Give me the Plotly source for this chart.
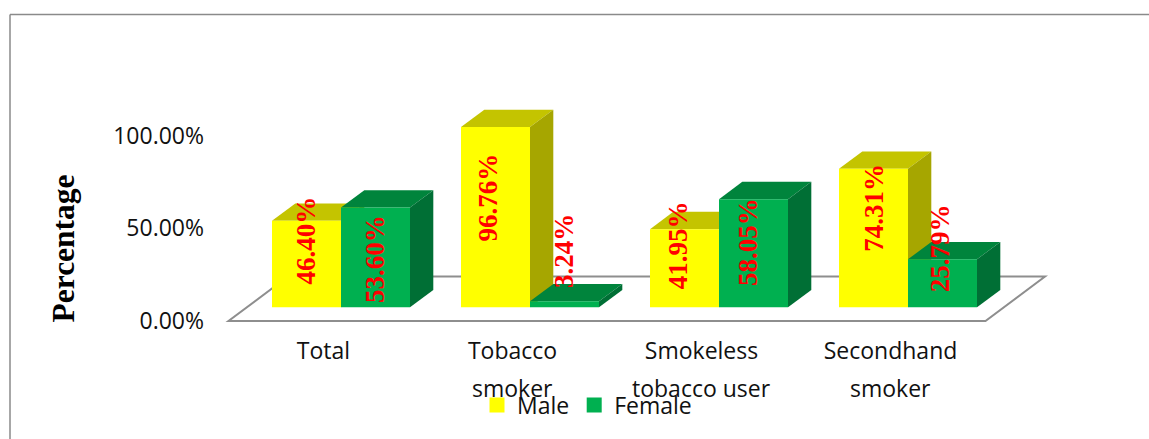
import plotly.graph_objects as go

first_lines = ["Total", "Tobacco", "Smokeless", "Secondhand"]
second_lines = ["", "smoker", "tobacco user", "smoker"]
male = [46.40, 96.76, 41.95, 74.31]
female = [53.60, 3.24, 58.05, 25.79]
tick_vals = [0, 50, 100]
tick_text = ["0.00%", "50.00%", "100.00%"]

# layout (page pixels)
W, H = 1149, 439
L, B = 205, 335
PX_X = 189.0      # px per category
X0 = 341.0        # px of first category centre
PX_Y = 1.863      # px per percent
Y0 = 307.3        # px of value 0
BAR = 69 / PX_X
DX = 23.3 / PX_X
DY = 17.3 / PX_Y
FONT = "Open Sans"
SERIF = "Liberation Serif"
TEXT_SIZE = 23
xr = [(L - X0) / PX_X, (W - X0) / PX_X]
yr = [(Y0 - B) / PX_Y, Y0 / PX_Y]
TICK_SHIFT = -17.5 / PX_X

# label placement (height along the bar, sideways shift in px)
male_label_h = [35.6, 59.0, 33.0, 53.5]
female_label_h = [25.9, 30.2, 35.0, 31.7]
male_label_dx = [-1, -7.5, -7, 0.5]
female_label_dx = [-0.5, -0.5, -5.5, -2.5]


def px(x):
    return (x - L) / (W - L)


def py(y):
    return (B - y) / B


def dark(kind, series):
    return {("top", "m"): "#C4C400", ("side", "m"): "#A6A600",
            ("top", "f"): "#00843C", ("side", "f"): "#006F35"}[(kind, series)]


fig = go.Figure()


def faces(values, left_offset, series):
    for i, v in enumerate(values):
        x1 = i + left_offset
        x2 = x1 + BAR
        fig.add_trace(go.Scatter(
            x=[x1, x1 + DX, x2 + DX, x2, x1], y=[v, v + DY, v + DY, v, v],
            mode="lines", fill="toself", fillcolor=dark("top", series),
            line=dict(width=0), showlegend=False, hoverinfo="skip", zorder=0))
        fig.add_trace(go.Scatter(
            x=[x2, x2 + DX, x2 + DX, x2, x2], y=[0, DY, v + DY, v, 0],
            mode="lines", fill="toself", fillcolor=dark("side", series),
            line=dict(width=0), showlegend=False, hoverinfo="skip", zorder=0))


faces(male, -BAR, "m")
faces(female, 0, "f")

cats = list(range(len(male)))
fig.add_trace(go.Bar(x=cats, y=male, name="Male", marker_color="#FFFF00",
                     marker_line_width=0, zorder=1, showlegend=False))
fig.add_trace(go.Bar(x=cats, y=female, name="Female", marker_color="#00B050",
                     marker_line_width=0, zorder=1, showlegend=False))
# legend keys
for name, color in (("Male", "#FFFF00"), ("Female", "#00B050")):
    fig.add_trace(go.Scatter(x=[None], y=[None], name=name, mode="markers",
                             marker=dict(symbol="square", size=15, color=color)))
# carries the shifted percentage axis
fig.add_trace(go.Scatter(x=cats[:3], y=tick_vals, yaxis="y2", mode="markers",
                         marker=dict(opacity=0), showlegend=False, hoverinfo="skip"))

ann = []
for i in cats:
    for vals, hs, dxs, off in ((male, male_label_h, male_label_dx, -BAR / 2),
                               (female, female_label_h, female_label_dx, BAR / 2)):
        ann.append(dict(x=i + off + dxs[i] / PX_X, y=hs[i], xref="x", yref="y",
                        text=f"{vals[i]:.2f}%", textangle=-90, showarrow=False,
                        font=dict(family=SERIF, size=27, color="#FF0000", weight="bold")))
    if second_lines[i]:
        ann.append(dict(x=i + TICK_SHIFT, y=py(387.5), xref="x", yref="paper",
                        text=second_lines[i], showarrow=False, yanchor="middle", xanchor="center",
                        font=dict(family=FONT, size=TEXT_SIZE, color="#111111")))
ann.append(dict(x=px(62.5), y=py(249), xref="paper", yref="paper", text="Percentage",
                textangle=-90, showarrow=False, xanchor="center", yanchor="middle",
                font=dict(family=SERIF, size=31.5, color="#000000", weight="bold")))

FRONT = (Y0 - 321) / PX_Y
BACK = (Y0 - 276.5) / PX_Y
fx = lambda p: (p - X0) / PX_X
shapes = [
    dict(type="path", xref="x", yref="y", layer="below",
         path=f"M{fx(228.5)},{FRONT} L{fx(985.5)},{FRONT} L{fx(1045)},{BACK} L{fx(288)},{BACK} Z",
         fillcolor="white", line=dict(color="#8E8E8E", width=2)),
    dict(type="line", xref="paper", yref="paper", x0=px(10), x1=1, y0=py(14.5), y1=py(14.5),
         line=dict(color="#8A8A8A", width=1.5)),
    dict(type="line", xref="paper", yref="paper", x0=px(10), x1=px(10), y0=py(14.5), y1=py(439),
         line=dict(color="#8A8A8A", width=1.5)),
]

fig.update_layout(
    width=W, height=H, autosize=False,
    margin=dict(l=L, r=0, t=0, b=H - B, pad=0),
    paper_bgcolor="white", plot_bgcolor="rgba(0,0,0,0)",
    barmode="group", bargap=1 - 2 * BAR, bargroupgap=0,
    showlegend=True,
    legend=dict(orientation="h", x=px(477), y=py(405), xanchor="left", yanchor="middle",
                bgcolor="rgba(0,0,0,0)", font=dict(family=FONT, size=TEXT_SIZE, color="#111111"),
                itemwidth=30, traceorder="normal"),
    xaxis=dict(range=xr, tickvals=[i + TICK_SHIFT for i in cats], ticktext=first_lines,
               showgrid=False, zeroline=False, showline=False, ticks="", tickangle=0,
               tickfont=dict(family=FONT, size=TEXT_SIZE, color="#111111")),
    yaxis=dict(range=yr, showgrid=False, zeroline=False, showline=False, showticklabels=False,
               ticks=""),
    yaxis2=dict(range=[(321 - B) / 1.853, 321 / 1.853], overlaying="y", side="left",
                tickvals=tick_vals, ticktext=tick_text, showgrid=False, zeroline=False,
                showline=False, ticks="", tickfont=dict(family=FONT, size=TEXT_SIZE, color="#111111")),
    annotations=ann, shapes=shapes,
)
fig.write_html("out.html", config={"displayModeBar": False},
               post_script="document.body.style.margin='0';")
